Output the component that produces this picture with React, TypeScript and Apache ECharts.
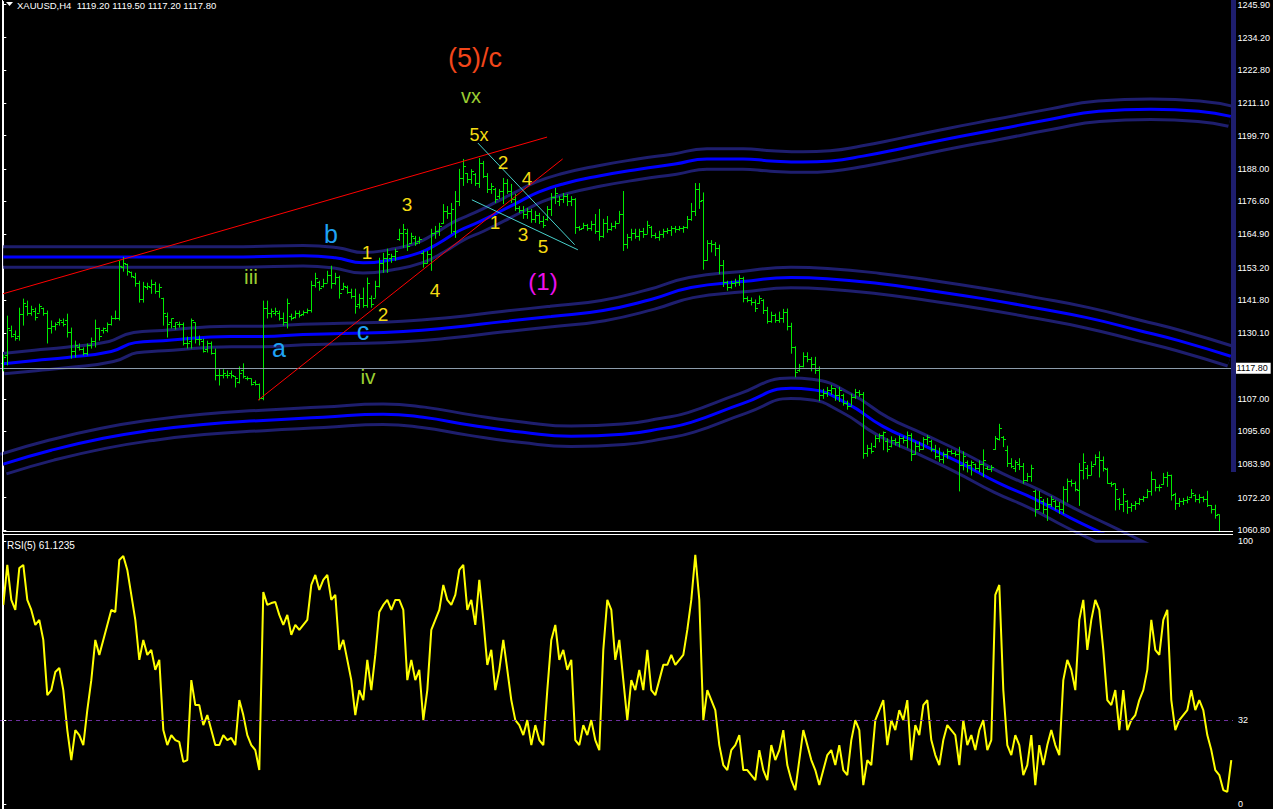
import React, { useEffect, useRef } from "react";
import * as echarts from "echarts";

// ---------- data ----------
const priceTicks = [1245.9, 1234.2, 1222.8, 1211.1, 1199.7, 1188.0, 1176.6, 1164.9, 1153.2, 1141.8, 1130.1, 1107.0, 1095.6, 1083.9, 1072.2, 1060.8];
const rsiTicks = [0, 32, 100];
const currentPrice = 1117.8;
const rsiLevel = 32;
const headerText = "XAUUSD,H4  1119.20 1119.50 1117.20 1117.80";
const rsiText = "RSI(5) 61.1235";

const barOpen = [
  1119.8,1122.3,1131.1,1130.0,1129.3,1137.0,1139.8,1137.4,1138.1,1137.4,
  1139.1,1137.4,1131.8,1132.5,1133.9,1134.2,1134.6,1130.4,1124.0,1125.4,
  1124.4,1123.3,1125.8,1127.5,1132.1,1131.1,1131.1,1133.2,1135.3,1135.3,
  1153.5,1154.6,1151.8,1150.0,1147.9,1142.3,1146.5,1146.5,1147.6,1145.1,
  1142.6,1136.3,1133.9,1132.8,1133.2,1133.2,1126.5,1127.5,1133.9,1128.2,
  1127.5,1124.7,1126.8,1123.0,1115.3,1115.3,1115.3,1116.0,1114.9,1113.1,
  1117.0,1114.5,1114.2,1112.8,1112.1,1107.2,1139.1,1137.4,1137.4,1137.4,
  1135.3,1133.9,1136.3,1136.0,1137.4,1137.0,1137.7,1138.4,1147.2,1148.2,
  1146.9,1147.9,1150.7,1147.9,1150.0,1145.8,1146.5,1144.7,1143.4,1140.5,
  1142.6,1140.2,1142.6,1142.6,1146.9,1154.9,1156.7,1156.7,1157.4,1163.4,
  1165.5,1165.5,1162.0,1163.8,1162.7,1158.4,1154.9,1158.1,1165.5,1166.2,
  1169.0,1173.2,1172.5,1166.2,1176.7,1184.8,1186.5,1184.4,1186.2,1183.0,
  1190.1,1185.5,1180.9,1180.9,1178.4,1180.2,1183.0,1180.2,1177.4,1174.2,
  1173.5,1172.1,1173.2,1170.4,1171.8,1169.7,1170.4,1173.9,1178.1,1176.7,
  1177.4,1178.4,1176.7,1177.4,1167.6,1167.2,1168.3,1167.2,1168.6,1166.2,
  1164.4,1169.0,1166.9,1167.9,1169.0,1172.1,1161.6,1164.1,1165.5,1164.4,
  1166.2,1165.1,1167.6,1164.8,1164.1,1165.1,1166.2,1166.5,1167.2,1166.9,
  1167.2,1167.6,1170.4,1173.2,1180.9,1177.1,1155.9,1161.8,1161.4,1160.1,
  1154.0,1148.2,1146.5,1147.9,1148.3,1149.6,1142.4,1141.7,1141.0,1140.7,
  1141.8,1138.4,1134.5,1136.7,1134.9,1135.6,1137.7,1132.5,1125.3,1117.2,
  1118.6,1122.0,1121.0,1119.2,1117.2,1108.3,1109.1,1110.1,1110.8,1108.4,
  1108.5,1105.7,1104.6,1107.7,1109.4,1108.7,1088.0,1089.8,1090.4,1093.1,
  1094.1,1092.0,1090.3,1092.4,1091.7,1093.1,1092.4,1094.2,1087.6,1090.5,
  1089.4,1092.9,1092.2,1089.4,1087.0,1085.9,1087.4,1088.7,1088.0,1087.7,
  1083.6,1084.6,1083.6,1083.9,1082.8,1084.2,1082.6,1082.2,1089.3,1093.0,
  1093.5,1089.0,1084.5,1082.6,1084.0,1083.3,1078.5,1079.9,1074.5,1068.2,
  1071.0,1068.2,1070.0,1071.0,1069.3,1068.1,1075.1,1077.9,1077.2,1075.0,
  1082.0,1082.6,1080.1,1083.9,1086.4,1085.3,1082.3,1077.4,1077.2,1071.7,
  1069.9,1071.0,1068.9,1069.6,1070.3,1071.7,1072.3,1074.4,1078.6,1076.1,
  1077.1,1079.5,1080.3,1073.4,1070.3,1071.0,1071.3,1072.3,1073.0,1071.6,
  1072.3,1071.6,1069.6,1068.3,1066.3,1059.0,1055.5,1053.5
];
const barHigh = [
  1122.6,1136.3,1132.8,1131.1,1139.1,1142.3,1141.6,1139.8,1139.1,1140.5,
  1139.1,1138.1,1134.6,1133.9,1135.3,1135.3,1137.0,1132.1,1127.5,1126.5,
  1125.1,1126.5,1128.6,1134.9,1132.1,1132.1,1133.9,1136.3,1138.1,1155.6,
  1157.0,1154.6,1151.8,1151.4,1148.6,1148.2,1147.9,1149.0,1148.2,1147.6,
  1142.6,1137.4,1135.3,1133.9,1134.2,1133.9,1128.9,1135.3,1133.9,1129.3,
  1128.2,1127.5,1127.2,1124.7,1117.7,1117.4,1117.0,1117.0,1114.9,1118.4,
  1119.5,1114.9,1114.2,1113.5,1112.4,1141.6,1141.6,1138.8,1139.1,1138.1,
  1137.4,1142.3,1137.0,1138.1,1138.1,1138.1,1138.8,1148.6,1151.4,1148.6,
  1149.3,1152.1,1153.9,1151.4,1150.4,1147.9,1146.9,1145.8,1145.8,1144.0,
  1146.2,1149.7,1143.4,1148.6,1156.7,1158.4,1159.9,1158.1,1159.9,1166.9,
  1168.6,1166.9,1165.5,1164.4,1164.1,1159.1,1159.1,1166.9,1167.9,1169.0,
  1175.6,1174.9,1176.0,1180.2,1188.0,1191.5,1186.5,1187.9,1186.5,1191.8,
  1190.8,1186.5,1183.0,1181.3,1180.9,1184.8,1184.4,1182.7,1179.2,1174.9,
  1174.9,1174.2,1173.9,1173.2,1172.5,1171.4,1174.9,1179.5,1181.3,1178.4,
  1179.5,1179.2,1178.4,1177.7,1167.9,1169.0,1168.6,1169.7,1172.1,1173.9,
  1170.4,1171.4,1169.0,1169.7,1173.2,1180.2,1165.1,1166.9,1166.9,1166.9,
  1167.2,1169.7,1167.9,1165.5,1166.2,1166.9,1167.2,1167.9,1167.9,1167.9,
  1167.9,1171.4,1176.0,1183.0,1183.0,1179.7,1162.9,1162.9,1162.2,1161.3,
  1155.9,1148.6,1148.6,1149.3,1150.7,1150.0,1143.1,1142.7,1142.0,1143.4,
  1142.1,1139.4,1137.7,1137.0,1137.7,1138.7,1138.8,1133.8,1125.5,1119.3,
  1123.4,1123.4,1121.7,1121.8,1118.4,1110.5,1111.2,1111.9,1110.8,1111.2,
  1108.8,1106.4,1108.8,1110.5,1110.1,1109.4,1090.8,1091.5,1094.2,1094.8,
  1095.5,1093.1,1093.8,1093.1,1094.1,1093.8,1095.5,1094.9,1091.9,1091.9,
  1093.5,1094.2,1092.6,1090.8,1089.8,1088.4,1089.4,1089.1,1088.7,1090.1,
  1088.5,1085.3,1085.3,1084.2,1085.3,1089.2,1083.3,1083.7,1093.9,1098.2,
  1093.9,1090.5,1086.1,1085.4,1086.1,1084.4,1080.9,1083.8,1075.0,1074.6,
  1071.7,1072.1,1072.8,1071.4,1070.7,1076.2,1078.9,1078.6,1077.9,1084.4,
  1087.8,1083.7,1085.0,1087.4,1088.5,1086.7,1082.7,1077.8,1077.2,1072.1,
  1075.5,1071.4,1070.3,1071.0,1072.1,1072.8,1075.2,1081.4,1078.6,1076.8,
  1080.9,1081.3,1080.3,1073.9,1072.1,1072.1,1072.7,1075.2,1073.4,1073.4,
  1072.7,1074.6,1069.6,1069.7,1066.3,1060.0,1057.5,1058.5
];
const barLow = [
  1116.7,1118.8,1128.6,1127.5,1127.5,1132.8,1136.3,1136.3,1134.6,1137.4,
  1136.3,1126.5,1130.0,1131.1,1132.8,1132.5,1128.6,1121.2,1121.6,1124.0,
  1122.3,1122.3,1124.7,1125.1,1127.5,1130.0,1130.4,1132.8,1134.9,1134.6,
  1151.8,1150.4,1149.7,1146.5,1140.9,1140.9,1145.4,1144.0,1144.0,1142.6,
  1132.8,1128.6,1131.8,1131.4,1132.1,1125.8,1124.7,1124.7,1126.5,1125.8,
  1123.3,1123.3,1122.6,1113.5,1111.7,1114.2,1114.2,1114.2,1111.0,1112.4,
  1114.2,1113.5,1111.7,1111.7,1106.5,1106.5,1135.3,1135.6,1136.3,1134.6,
  1132.8,1131.8,1134.6,1135.3,1135.6,1136.3,1137.0,1137.4,1146.2,1145.1,
  1146.2,1147.9,1145.8,1147.2,1142.3,1145.4,1144.0,1142.3,1137.0,1138.8,
  1139.1,1139.1,1139.1,1142.6,1146.2,1151.4,1151.4,1154.9,1155.6,1162.7,
  1160.2,1159.1,1161.6,1160.9,1161.6,1153.2,1154.6,1152.1,1163.4,1164.4,
  1168.6,1170.4,1165.1,1163.7,1174.9,1182.0,1183.0,1182.7,1182.0,1181.3,
  1184.8,1179.5,1179.2,1176.0,1177.4,1175.6,1179.2,1176.0,1173.2,1172.5,
  1170.4,1170.4,1169.0,1169.0,1168.6,1167.2,1169.7,1171.4,1175.6,1174.9,
  1176.0,1174.9,1174.9,1165.1,1166.2,1166.9,1166.2,1166.2,1165.1,1162.7,
  1163.7,1165.5,1166.2,1166.9,1169.0,1159.1,1159.9,1162.7,1163.4,1162.7,
  1163.7,1165.1,1163.7,1163.4,1162.7,1163.7,1165.1,1164.4,1165.5,1166.2,
  1165.5,1166.9,1169.7,1171.4,1173.9,1152.5,1155.6,1158.6,1157.3,1150.9,
  1146.4,1145.1,1145.8,1146.5,1146.8,1141.0,1141.0,1139.9,1137.6,1140.4,
  1136.9,1133.5,1133.8,1133.8,1133.8,1133.8,1131.1,1122.9,1114.6,1116.5,
  1118.1,1119.9,1116.7,1115.8,1106.2,1107.0,1107.7,1108.4,1106.3,1105.9,
  1104.6,1103.2,1104.6,1107.0,1107.7,1085.9,1086.6,1087.7,1089.7,1091.7,
  1088.9,1088.2,1089.9,1090.6,1089.9,1091.3,1089.6,1085.1,1087.3,1088.4,
  1089.1,1090.8,1088.4,1085.9,1084.8,1084.2,1085.9,1087.4,1086.7,1074.4,
  1081.8,1081.1,1080.0,1081.8,1081.1,1079.4,1081.9,1081.2,1089.0,1092.3,
  1090.0,1083.0,1082.6,1081.2,1081.9,1077.1,1077.8,1077.8,1065.5,1068.2,
  1066.5,1064.0,1068.9,1067.9,1066.5,1066.4,1070.5,1076.1,1074.4,1069.3,
  1078.6,1078.7,1080.1,1083.6,1079.3,1081.4,1077.1,1076.0,1067.7,1067.9,
  1067.1,1066.5,1067.2,1067.9,1069.6,1070.7,1072.0,1072.9,1074.4,1074.4,
  1076.7,1076.0,1071.2,1067.9,1068.9,1069.6,1070.2,1072.0,1070.6,1070.2,
  1070.6,1068.9,1066.6,1064.8,1058.5,1054.0,1052.5,1053.0
];
const barClose = [
  1121.6,1131.8,1129.3,1128.6,1137.0,1140.9,1137.4,1138.8,1136.0,1139.8,
  1137.4,1131.8,1132.8,1133.2,1134.6,1133.5,1130.4,1124.0,1125.8,1124.7,
  1123.3,1125.8,1127.5,1132.1,1129.0,1131.8,1133.2,1135.3,1135.3,1153.9,
  1154.9,1152.1,1150.4,1147.9,1142.3,1146.9,1146.9,1147.6,1145.1,1146.5,
  1137.4,1133.5,1135.3,1133.9,1133.2,1126.5,1126.5,1134.6,1128.2,1128.2,
  1124.0,1126.8,1123.0,1115.3,1115.3,1116.0,1115.3,1115.3,1114.2,1116.0,
  1114.9,1114.2,1112.4,1112.1,1107.2,1139.1,1137.4,1138.1,1138.1,1135.3,
  1133.9,1140.9,1135.3,1137.4,1136.7,1137.7,1138.4,1147.2,1149.7,1146.2,
  1147.9,1150.7,1147.9,1150.0,1144.4,1146.9,1144.7,1143.4,1139.8,1142.6,
  1140.2,1147.9,1140.5,1146.9,1154.9,1156.7,1158.1,1157.4,1159.1,1165.5,
  1166.9,1160.9,1164.4,1162.0,1163.4,1154.9,1158.1,1165.5,1166.2,1167.9,
  1173.2,1172.5,1173.9,1176.7,1184.8,1189.0,1184.4,1187.2,1183.0,1190.1,
  1185.5,1180.9,1182.0,1177.4,1180.2,1183.0,1180.2,1177.4,1174.2,1173.5,
  1172.1,1173.2,1170.4,1171.8,1169.7,1168.3,1173.9,1178.1,1179.5,1177.4,
  1178.4,1176.7,1177.4,1167.6,1166.9,1168.3,1167.2,1168.6,1166.2,1164.4,
  1169.0,1166.9,1167.9,1169.0,1172.1,1161.6,1164.1,1165.5,1164.4,1166.2,
  1165.1,1168.3,1164.8,1164.1,1165.1,1166.2,1166.5,1167.2,1166.9,1167.2,
  1167.6,1170.4,1173.2,1180.9,1176.7,1155.9,1161.8,1161.4,1160.1,1154.0,
  1148.2,1146.5,1147.9,1148.3,1149.6,1142.4,1141.7,1141.0,1139.0,1142.4,
  1138.3,1134.5,1136.7,1134.9,1135.6,1137.7,1132.5,1125.3,1116.4,1118.6,
  1122.0,1121.0,1119.2,1117.2,1108.3,1109.1,1110.1,1110.8,1108.4,1110.1,
  1105.7,1104.6,1107.8,1109.4,1108.7,1088.0,1089.8,1088.7,1093.2,1094.1,
  1095.2,1089.2,1092.4,1091.7,1093.1,1092.4,1094.1,1087.6,1090.5,1089.4,
  1092.9,1093.5,1089.4,1087.0,1085.9,1087.4,1088.7,1088.0,1087.7,1083.6,
  1086.7,1083.6,1084.6,1082.8,1084.2,1085.3,1082.2,1082.9,1093.2,1096.8,
  1092.8,1084.5,1083.3,1084.7,1083.3,1078.5,1079.9,1082.7,1068.3,1072.4,
  1068.2,1070.0,1071.7,1069.3,1068.2,1075.2,1077.9,1077.2,1075.1,1082.0,
  1084.6,1080.1,1083.3,1086.4,1085.3,1082.8,1077.4,1077.1,1075.1,1070.0,
  1073.4,1068.9,1069.6,1070.3,1071.7,1072.4,1074.5,1078.6,1076.1,1075.8,
  1079.5,1080.2,1073.3,1070.3,1071.0,1071.4,1071.6,1073.7,1071.6,1072.3,
  1071.6,1069.6,1068.3,1066.2,1060.5,1055.5,1053.5,1057.5
];
const rsiValues = [
  75.7,90.9,77.6,73.8,89.7,90.9,77.6,73.8,68.1,70.0,
  62.4,41.4,43.3,50.2,51.7,43.3,28.1,16.7,28.1,26.2,
  22.4,35.7,47.1,62.4,56.7,62.4,68.1,73.8,73.0,92.8,
  94.3,89.0,79.5,70.0,54.8,62.4,56.7,58.6,51.0,54.8,
  28.1,22.4,26.2,24.3,23.6,16.0,16.7,47.1,37.6,37.6,
  30.0,33.8,28.1,22.4,22.4,26.2,24.3,25.1,22.4,39.5,
  33.8,26.2,22.4,20.5,12.9,80.6,75.7,76.4,76.8,71.9,
  68.1,71.9,64.3,68.1,66.2,68.1,70.0,83.3,87.1,81.4,
  85.2,87.1,77.6,79.5,58.6,62.4,54.8,47.1,33.8,43.3,
  39.5,54.8,43.3,56.7,73.0,75.7,77.6,73.8,77.6,77.6,
  73.8,47.1,54.8,47.1,51.0,31.9,43.3,66.2,70.0,73.8,
  83.3,77.6,75.7,79.5,89.0,90.9,73.8,77.6,68.1,85.2,
  70.0,52.9,58.6,43.3,51.0,62.4,51.0,39.5,31.9,30.0,
  26.2,31.9,22.4,30.0,24.3,22.4,43.3,62.4,68.1,54.8,
  58.6,51.0,54.8,24.3,22.4,30.0,26.2,31.9,24.3,20.5,
  58.6,77.6,73.8,54.8,62.4,47.1,31.9,47.1,43.3,51.0,
  43.3,58.6,43.3,41.4,47.1,52.9,52.9,56.7,52.9,54.8,
  56.7,66.2,77.6,94.7,77.6,31.9,43.3,39.5,35.7,22.4,
  14.8,12.9,20.5,22.4,26.2,12.9,12.9,11.0,9.1,20.5,
  12.9,9.1,22.4,16.7,20.5,28.1,14.8,9.1,5.3,16.7,
  28.1,22.4,16.7,12.9,7.2,12.9,18.6,20.5,14.8,22.4,
  12.9,11.0,24.3,31.9,28.1,7.2,16.7,14.8,31.9,35.7,
  39.5,22.4,31.9,28.1,35.7,31.9,39.5,16.7,30.0,26.2,
  37.6,39.5,24.3,18.6,14.8,24.3,30.0,28.1,26.2,14.8,
  31.9,22.4,26.2,20.5,28.1,31.9,20.5,24.3,79.5,83.3,
  43.3,22.4,18.6,26.2,22.4,11.0,14.8,26.2,7.2,22.4,
  14.8,22.4,28.1,22.4,18.6,47.1,54.8,51.0,43.3,70.0,
  77.6,58.6,70.0,77.6,73.8,58.6,39.5,37.6,43.3,28.1,
  43.3,28.1,31.9,33.8,39.5,43.3,51.0,70.0,58.6,56.7,
  70.0,73.8,39.5,28.1,31.9,33.8,35.7,43.3,35.7,39.5,
  35.7,26.2,20.5,12.9,11.0,5.3,4.6,16.7
];

// envelope bands: [bar index, price]
const upperBand = [
  [0,1157.0],[20,1157.0],[40,1157.0],[60,1157.0],[75,1157.4],[83,1156.7],[90,1154.9],[97,1156.0],
  [104,1158.4],[109,1161.9],[114,1166.2],[119,1169.3],[124,1172.8],[129,1176.4],[134,1179.9],
  [140,1182.7],[149,1185.5],[159,1187.9],[168,1189.7],[176,1191.5],[185,1191.5],[192,1190.8],
  [200,1190.4],[207,1190.8],[215,1192.5],[225,1195.3],[237,1198.8],[249,1202.0],[262,1205.5],
  [274,1208.3],[287,1209.0],[299,1208.3],[307,1206.5]
];
const middleBand = [
  [0,1119.4],[8,1120.5],[16,1121.6],[27,1123.7],[33,1126.8],[40,1127.5],[50,1128.6],[57,1129.0],
  [65,1129.0],[75,1129.7],[85,1130.0],[100,1130.7],[112,1132.1],[125,1134.2],[137,1136.0],
  [150,1138.1],[162,1142.0],[172,1146.2],[185,1148.3],[197,1149.7],[206,1149.3],[219,1147.6],
  [232,1145.1],[245,1142.3],[258,1139.1],[271,1135.6],[284,1131.1],[294,1127.5],[307,1122.0]
];
const lowerBand = [
  [0,1084.0],[12,1088.9],[25,1093.1],[37,1095.9],[50,1098.0],[65,1099.4],[80,1100.5],[95,1101.6],
  [105,1100.5],[117,1097.7],[130,1095.2],[142,1093.8],[155,1094.5],[165,1096.6],[172,1098.7],
  [185,1105.4],[197,1110.7],[202,1110.3],[211,1105.4],[220,1097.3],[229,1091.4],[239,1084.7],
  [249,1077.3],[258,1071.7],[267,1065.0],[275,1059.6],[290,1049.5],[307,1039.0]
];

// hand-drawn trend lines: [bar index, price] pairs
const redLines = [
  [[-0.1, 1144.0], [136.0, 1199.2]],
  [[63.7, 1106.5], [139.9, 1191.5]]
];
const cyanLines = [
  [[118.7, 1197.1], [142.9, 1161.3]],
  [[117.2, 1177.1], [143.7, 1159.5]]
];

// wave labels
const waveLabels = [
  { text: "(5)/c", x: 475, y: 58, color: "#f2461a", size: 27 },
  { text: "vx", x: 471, y: 96, color: "#9acd32", size: 20 },
  { text: "5x", x: 479, y: 135, color: "#f5dc12", size: 18 },
  { text: "2", x: 503, y: 162, color: "#f5dc12", size: 19 },
  { text: "4", x: 527, y: 178, color: "#f5dc12", size: 19 },
  { text: "1", x: 495, y: 222, color: "#f5dc12", size: 19 },
  { text: "3", x: 523, y: 234, color: "#f5dc12", size: 19 },
  { text: "5", x: 543, y: 246, color: "#f5dc12", size: 19 },
  { text: "3", x: 407, y: 204, color: "#f5dc12", size: 19 },
  { text: "1", x: 367, y: 252, color: "#f5dc12", size: 19 },
  { text: "2", x: 383, y: 314, color: "#f5dc12", size: 19 },
  { text: "4", x: 435, y: 290, color: "#f5dc12", size: 19 },
  { text: "b", x: 331, y: 234, color: "#1fa3f5", size: 25 },
  { text: "a", x: 279, y: 348, color: "#1fa3f5", size: 25 },
  { text: "c", x: 363, y: 331, color: "#1fa3f5", size: 25 },
  { text: "iii", x: 251, y: 276, color: "#9acd32", size: 21 },
  { text: "iv", x: 368, y: 376, color: "#9acd32", size: 21 },
  { text: "(1)", x: 543, y: 281, color: "#ee11ee", size: 24 }
];

const FONT = "'Liberation Sans', Arial, sans-serif";
const NAVY = "#1e1e6e";
const BLUE = "#0000ff";
const GREEN = "#00ea00";

export default function App() {
  const ref = useRef<HTMLDivElement>(null);

  useEffect(() => {
    const chart = echarts.init(ref.current as HTMLDivElement, null, { renderer: "svg" });
    const bars = barOpen.map((o, i) => [i, o, barHigh[i], barLow[i], barClose[i]]);

    const bandSeries = (data: number[][], withPriceLine: boolean) => [
      {
        type: "line", xAxisIndex: 0, yAxisIndex: 0, data, smooth: 0.5, showSymbol: false, silent: true,
        lineStyle: { color: NAVY, width: 23.5 }, z: 2,
        markLine: withPriceLine ? {
          silent: true, symbol: ["none", "none"], animation: false,
          lineStyle: { color: "#8c9cac", width: 1, type: "solid" },
          label: {
            show: true, position: "end", distance: 1, formatter: () => currentPrice.toFixed(2),
            backgroundColor: "#ffffff", color: "#000000", fontFamily: FONT, fontSize: 9,
            padding: [1, 3, 0, 3], lineHeight: 10
          },
          data: [{ yAxis: currentPrice }]
        } : undefined
      },
      {
        type: "line", xAxisIndex: 0, yAxisIndex: 0, data, smooth: 0.5, showSymbol: false, silent: true,
        lineStyle: { color: "#000000", width: 17.5 }, z: 2
      },
      {
        type: "line", xAxisIndex: 0, yAxisIndex: 0, data, smooth: 0.5, showSymbol: false, silent: true,
        lineStyle: { color: BLUE, width: 3 }, z: 2
      }
    ];

    const trendSeries = (lines: number[][][], color: string) =>
      lines.map((pts) => ({
        type: "line", xAxisIndex: 0, yAxisIndex: 0, data: pts, showSymbol: false, silent: true,
        lineStyle: { color, width: 1 }, z: 5
      }));

    const option: any = {
      animation: false,
      backgroundColor: "#000000",
      grid: [
        { left: 0, top: 0, width: 1233, height: 531 },
        { left: 0, top: 534, width: 1233, height: 275 }
      ],
      xAxis: [
        { gridIndex: 0, type: "value", min: -0.825, max: 307.425, show: false },
        { gridIndex: 1, type: "value", min: -0.825, max: 307.425, show: false }
      ],
      yAxis: [
        {
          gridIndex: 0, type: "value", position: "right", min: 1060.45, max: 1246.95,
          splitLine: { show: false },
          axisLine: { show: true, lineStyle: { color: "#ffffff", width: 1 } },
          axisTick: { show: true, length: 3, lineStyle: { color: "#ffffff" }, customValues: priceTicks },
          axisLabel: {
            customValues: priceTicks, color: "#ffffff", fontFamily: FONT, fontSize: 9, margin: 5,
            formatter: (v: number) => v.toFixed(2)
          }
        },
        {
          gridIndex: 1, type: "value", position: "right", min: -1.9, max: 102.66,
          splitLine: { show: false },
          axisLine: { show: true, lineStyle: { color: "#ffffff", width: 1 } },
          axisTick: { show: true, length: 3, lineStyle: { color: "#ffffff" }, customValues: rsiTicks },
          axisLabel: {
            customValues: rsiTicks, color: "#ffffff", fontFamily: FONT, fontSize: 9, margin: 5,
            formatter: (v: number) => String(Math.round(v))
          }
        }
      ],
      series: [
        ...bandSeries(upperBand, true),
        ...bandSeries(middleBand, false),
        ...bandSeries(lowerBand, false),
        {
          type: "custom", xAxisIndex: 0, yAxisIndex: 0, data: bars, silent: true, z: 4,
          encode: { x: 0, y: [1, 2, 3, 4] },
          renderItem: (params: any, api: any) => {
            const i = api.value(0);
            const po = api.coord([i, api.value(1)]);
            const ph = api.coord([i, api.value(2)]);
            const pl = api.coord([i, api.value(3)]);
            const pc = api.coord([i, api.value(4)]);
            const cs = params.coordSys;
            const top = cs.y;
            const bot = cs.y + cs.height;
            if (ph[1] > bot) return null;
            const clamp = (v: number) => Math.max(top, Math.min(bot, v));
            const x = Math.round(ph[0]) + 0.5;
            const st = { stroke: GREEN, lineWidth: 1, fill: null };
            const children: any[] = [
              { type: "line", shape: { x1: x, y1: clamp(ph[1]), x2: x, y2: clamp(pl[1]) }, style: st }
            ];
            if (po[1] <= bot) {
              const yo = Math.round(po[1]) + 0.5;
              children.push({ type: "line", shape: { x1: x - 2.5, y1: yo, x2: x, y2: yo }, style: st });
            }
            if (pc[1] <= bot) {
              const yc = Math.round(pc[1]) + 0.5;
              children.push({ type: "line", shape: { x1: x, y1: yc, x2: x + 2.5, y2: yc }, style: st });
            }
            return { type: "group", children };
          }
        },
        ...trendSeries(redLines, "#ff0000"),
        ...trendSeries(cyanLines, "#48d1cc"),
        {
          type: "line", xAxisIndex: 1, yAxisIndex: 1, data: rsiValues.map((v, i) => [i, v]),
          showSymbol: false, silent: true, lineStyle: { color: "#ffff00", width: 2 }, z: 3,
          markLine: {
            silent: true, symbol: ["none", "none"], animation: false, label: { show: false },
            lineStyle: { color: "#7030a0", width: 1, type: [4, 4] },
            data: [{ yAxis: rsiLevel }]
          }
        }
      ],
      graphic: [
        { type: "line", shape: { x1: 2.5, y1: 0, x2: 2.5, y2: 809 }, style: { stroke: "#ffffff", lineWidth: 1 }, z: 10 },
        { type: "line", shape: { x1: 2, y1: 531.5, x2: 1233, y2: 531.5 }, style: { stroke: "#ffffff", lineWidth: 1 }, z: 10 },
        { type: "line", shape: { x1: 2, y1: 534.5, x2: 1233, y2: 534.5 }, style: { stroke: "#ffffff", lineWidth: 1 }, z: 10 },
        { type: "rect", shape: { x: 1231, y: 0, width: 5, height: 472 }, style: { fill: NAVY }, z: 10 },
        { type: "polygon", shape: { points: [[6, 2], [13, 2], [9.5, 6]] }, style: { fill: "#ffffff" }, z: 10 },
        {
          type: "text", x: 17, y: 5, z: 10,
          style: { text: headerText, fill: "#ffffff", font: `9.5px ${FONT}`, textAlign: "left", textVerticalAlign: "middle" }
        },
        {
          type: "text", x: 7, y: 545, z: 10,
          style: { text: rsiText, fill: "#ffffff", font: `10px ${FONT}`, textAlign: "left", textVerticalAlign: "middle" }
        },
        ...waveLabels.map((l) => ({
          type: "text", x: l.x, y: l.y, z: 11,
          style: { text: l.text, fill: l.color, font: `${l.size}px ${FONT}`, textAlign: "center", textVerticalAlign: "middle" }
        }))
      ]
    };

    chart.setOption(option);
    return () => chart.dispose();
  }, []);

  return (
    <div
      ref={ref}
      style={{ position: "fixed", left: 0, top: 0, width: 1273, height: 809, background: "#000" }}
    />
  );
}
